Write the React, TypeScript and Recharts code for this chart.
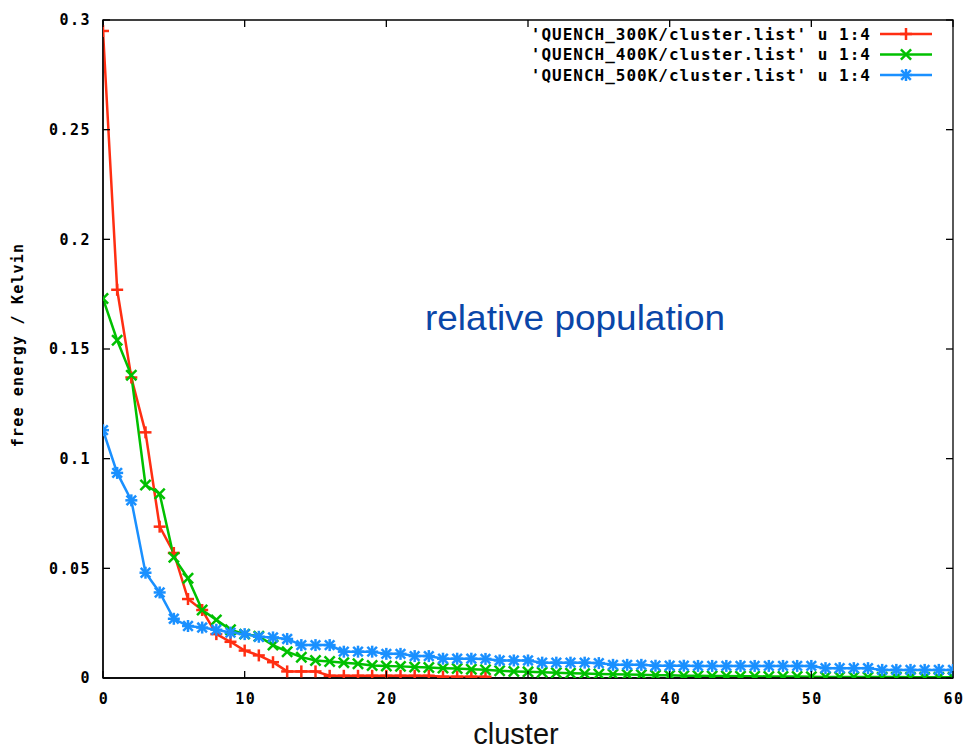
import React from 'react';
import { LineChart, Line, XAxis, YAxis, ReferenceArea } from 'recharts';

const W = 970;
const H = 749;
const MARGIN = { top: 20, right: 17, left: 0, bottom: 0 };
const Y_AXIS_W = 103;
const X_AXIS_H = 71;
const PLOT_TOP = MARGIN.top;
const PLOT_RIGHT = W - MARGIN.right;
const Y_TICK_MARGIN = 12;
const X_TICK_MARGIN = 15;
const TICK_LEN = 7;

const RED = '#ff2e12';
const GREEN = '#00c000';
const BLUE = '#1a90ff';
const MONO = '"DejaVu Sans Mono", "Liberation Mono", monospace';
const SANS = '"Liberation Sans", Arial, sans-serif';

// cluster index (x)
const clusters300 = [0, 1, 2, 3, 4, 5, 6, 7, 8, 9, 10, 11, 12, 13, 14, 15, 16, 17, 18, 19, 20, 21, 22, 23, 24, 25, 26, 27];
const clusters = [
  0, 1, 2, 3, 4, 5, 6, 7, 8, 9, 10, 11, 12, 13, 14, 15, 16, 17, 18, 19, 20,
  21, 22, 23, 24, 25, 26, 27, 28, 29, 30, 31, 32, 33, 34, 35, 36, 37, 38, 39, 40,
  41, 42, 43, 44, 45, 46, 47, 48, 49, 50, 51, 52, 53, 54, 55, 56, 57, 58, 59, 60,
];

const quench300 = [
  0.295, 0.177, 0.137, 0.112, 0.069, 0.057, 0.036, 0.031, 0.02, 0.0165,
  0.0125, 0.0103, 0.0072, 0.003, 0.003, 0.003, 0.001, 0.001, 0.001, 0.001,
  0.001, 0.001, 0.001, 0.001, 0.0006, 0.0006, 0.0006, 0.0006,
];

const quench400 = [
  0.173, 0.154, 0.138, 0.088, 0.084, 0.055, 0.0455, 0.031, 0.0265, 0.022,
  0.02, 0.019, 0.015, 0.012, 0.0095, 0.008, 0.0075, 0.007, 0.0065, 0.0057,
  0.0055, 0.0053, 0.005, 0.0048, 0.0045, 0.0043, 0.004, 0.0038, 0.0033, 0.003,
  0.0028, 0.0026, 0.0024, 0.0022, 0.002, 0.0018, 0.0017, 0.0016, 0.0015, 0.0013,
  0.0012, 0.001, 0.001, 0.0009, 0.0009, 0.0008, 0.0008, 0.0007, 0.0007, 0.0007,
  0.0006, 0.0005, 0.0005, 0.0005, 0.0004, 0.0004, 0.0004, 0.0003, 0.0003, 0.0003,
  0.0003,
];

const quench500 = [
  0.113, 0.0935, 0.081, 0.048, 0.039, 0.027, 0.0237, 0.023, 0.022, 0.0207,
  0.02, 0.0188, 0.0185, 0.0178, 0.015, 0.015, 0.015, 0.012, 0.012, 0.012,
  0.011, 0.011, 0.01, 0.01, 0.0088, 0.0088, 0.0088, 0.0087, 0.008, 0.008,
  0.008, 0.007, 0.007, 0.007, 0.007, 0.0068, 0.006, 0.006, 0.006, 0.0056,
  0.0056, 0.0056, 0.0055, 0.0055, 0.0055, 0.0055, 0.0055, 0.0055, 0.0055, 0.0055,
  0.0055, 0.0045, 0.0045, 0.0045, 0.0045, 0.0037, 0.0037, 0.0037, 0.0037, 0.0037,
  0.0037,
];

const xTicks = [0, 10, 20, 30, 40, 50, 60];
const yTicks = [0, 0.05, 0.1, 0.15, 0.2, 0.25, 0.3];
const yTickLabels = ['0', '0.05', '0.1', '0.15', '0.2', '0.25', '0.3'];
const seriesNames = [
  "'QUENCH_300K/cluster.list' u 1:4",
  "'QUENCH_400K/cluster.list' u 1:4",
  "'QUENCH_500K/cluster.list' u 1:4",
];
const xLabel = 'cluster';
const yLabel = 'free energy / Kelvin';
const annotation = 'relative population';

const toRows = (xs: number[], ys: number[]) => xs.map((x, i) => ({ x, y: ys[i] }));
const data300 = toRows(clusters300, quench300);
const data400 = toRows(clusters, quench400);
const data500 = toRows(clusters, quench500);

const MS = 6; // marker half-size
const MW = 2.5;

const PlusMark = ({ cx, cy, color }: any) => (
  <g>
    <line x1={cx - MS} y1={cy} x2={cx + MS} y2={cy} stroke={color} strokeWidth={MW} />
    <line x1={cx} y1={cy - MS} x2={cx} y2={cy + MS} stroke={color} strokeWidth={MW} />
  </g>
);
const CrossMark = ({ cx, cy, color }: any) => {
  const d = MS * 0.85;
  return (
    <g>
      <line x1={cx - d} y1={cy - d} x2={cx + d} y2={cy + d} stroke={color} strokeWidth={MW} />
      <line x1={cx - d} y1={cy + d} x2={cx + d} y2={cy - d} stroke={color} strokeWidth={MW} />
    </g>
  );
};
const StarMark = ({ cx, cy, color }: any) => {
  const d = MS * 0.8;
  return (
    <g>
      <line x1={cx - MS} y1={cy} x2={cx + MS} y2={cy} stroke={color} strokeWidth={MW} />
      <line x1={cx} y1={cy - MS} x2={cx} y2={cy + MS} stroke={color} strokeWidth={MW} />
      <line x1={cx - d} y1={cy - d} x2={cx + d} y2={cy + d} stroke={color} strokeWidth={MW} />
      <line x1={cx - d} y1={cy + d} x2={cx + d} y2={cy - d} stroke={color} strokeWidth={MW} />
    </g>
  );
};

const markers = [PlusMark, CrossMark, StarMark];
const colors = [RED, GREEN, BLUE];

const makeDot = (Mark: any, color: string) => (p: any) => {
  if (p.cx == null || p.cy == null) return <g key={`e-${p.index}`} />;
  return <Mark key={`m-${p.index}`} cx={p.cx} cy={p.cy} color={color} />;
};

const YTick = (props: any) => {
  const { x, y, payload } = props;
  const axisX = x + Y_TICK_MARGIN;
  const idx = yTicks.indexOf(payload.value);
  const label = idx >= 0 ? yTickLabels[idx] : String(payload.value);
  return (
    <g>
      <line x1={axisX} y1={y} x2={axisX + TICK_LEN} y2={y} stroke="#000" strokeWidth={1.3} />
      <line x1={PLOT_RIGHT - TICK_LEN} y1={y} x2={PLOT_RIGHT} y2={y} stroke="#000" strokeWidth={1.3} />
      <text x={x} y={y} dy="0.36em" textAnchor="end" fontFamily={MONO} fontWeight="bold" fontSize={15} letterSpacing={1.5} fill="#000">
        {label}
      </text>
    </g>
  );
};

const XTick = (props: any) => {
  const { x, y, payload } = props;
  const axisY = y - X_TICK_MARGIN;
  return (
    <g>
      <line x1={x} y1={axisY} x2={x} y2={axisY - TICK_LEN} stroke="#000" strokeWidth={1.3} />
      <line x1={x} y1={PLOT_TOP} x2={x} y2={PLOT_TOP + TICK_LEN} stroke="#000" strokeWidth={1.3} />
      <text x={x + 1} y={y} dy="0.71em" textAnchor="middle" fontFamily={MONO} fontWeight="bold" fontSize={15} letterSpacing={1.5} fill="#000">
        {String(payload.value)}
      </text>
    </g>
  );
};

const LEG_TEXT_RIGHT = 871;
const LEG_LINE_X1 = 880;
const LEG_LINE_X2 = 932;
const LEG_Y0 = 34;
const LEG_DY = 20.5;

export default function App() {
  return (
    <div style={{ position: 'absolute', left: 0, top: 0, width: W, height: H, background: '#fff' }}>
      <LineChart width={W} height={H} margin={MARGIN}>
        <XAxis
          type="number"
          dataKey="x"
          domain={[0, 60]}
          ticks={xTicks}
          interval={0}
          height={X_AXIS_H}
          tickSize={0}
          tickMargin={X_TICK_MARGIN}
          tickLine={false}
          axisLine={{ stroke: '#000', strokeWidth: 1.3 }}
          tick={<XTick />}
          allowDataOverflow
        />
        <YAxis
          type="number"
          dataKey="y"
          domain={[0, 0.3]}
          ticks={yTicks}
          interval={0}
          width={Y_AXIS_W}
          tickSize={0}
          tickMargin={Y_TICK_MARGIN}
          tickLine={false}
          axisLine={{ stroke: '#000', strokeWidth: 1.3 }}
          tick={<YTick />}
          allowDataOverflow
        />
        <ReferenceArea x1={0} x2={60} y1={0} y2={0.3} fill="none" stroke="#000" strokeWidth={1.3} fillOpacity={0} />
        <Line
          data={data300}
          dataKey="y"
          stroke={RED}
          strokeWidth={2.5}
          dot={makeDot(PlusMark, RED)}
          activeDot={false}
          isAnimationActive={false}
          type="linear"
        />
        <Line
          data={data400}
          dataKey="y"
          stroke={GREEN}
          strokeWidth={2.5}
          dot={makeDot(CrossMark, GREEN)}
          activeDot={false}
          isAnimationActive={false}
          type="linear"
        />
        <Line
          data={data500}
          dataKey="y"
          stroke={BLUE}
          strokeWidth={2.5}
          dot={makeDot(StarMark, BLUE)}
          activeDot={false}
          isAnimationActive={false}
          type="linear"
        />
      </LineChart>
      <svg
        width={W}
        height={H}
        style={{ position: 'absolute', left: 0, top: 0, pointerEvents: 'none' }}
      >
        <text x={575} y={330} textAnchor="middle" fontFamily={SANS} fontSize={35} textLength={300} lengthAdjust="spacingAndGlyphs" fill="#0a46a8">
          {annotation}
        </text>
        <text x={516} y={744} textAnchor="middle" fontFamily={SANS} fontSize={29} fill="#111">
          {xLabel}
        </text>
        <text
          transform="translate(18,345) rotate(-90)"
          textAnchor="middle"
          dy="0.36em"
          fontFamily={MONO}
          fontWeight="bold"
          fontSize={15}
          letterSpacing={1.2}
          fill="#000"
        >
          {yLabel}
        </text>
        {seriesNames.map((name, i) => {
          const y = LEG_Y0 + i * LEG_DY;
          const Mark = markers[i];
          const cx = (LEG_LINE_X1 + LEG_LINE_X2) / 2;
          return (
            <g key={name}>
              <text x={LEG_TEXT_RIGHT} y={y} dy="0.36em" textAnchor="end" fontFamily={MONO} fontWeight="bold" fontSize={16} letterSpacing={1.0} fill="#000">
                {name}
              </text>
              <line x1={LEG_LINE_X1} y1={y} x2={LEG_LINE_X2} y2={y} stroke={colors[i]} strokeWidth={2.5} />
              <Mark cx={cx} cy={y} color={colors[i]} />
            </g>
          );
        })}
      </svg>
    </div>
  );
}
